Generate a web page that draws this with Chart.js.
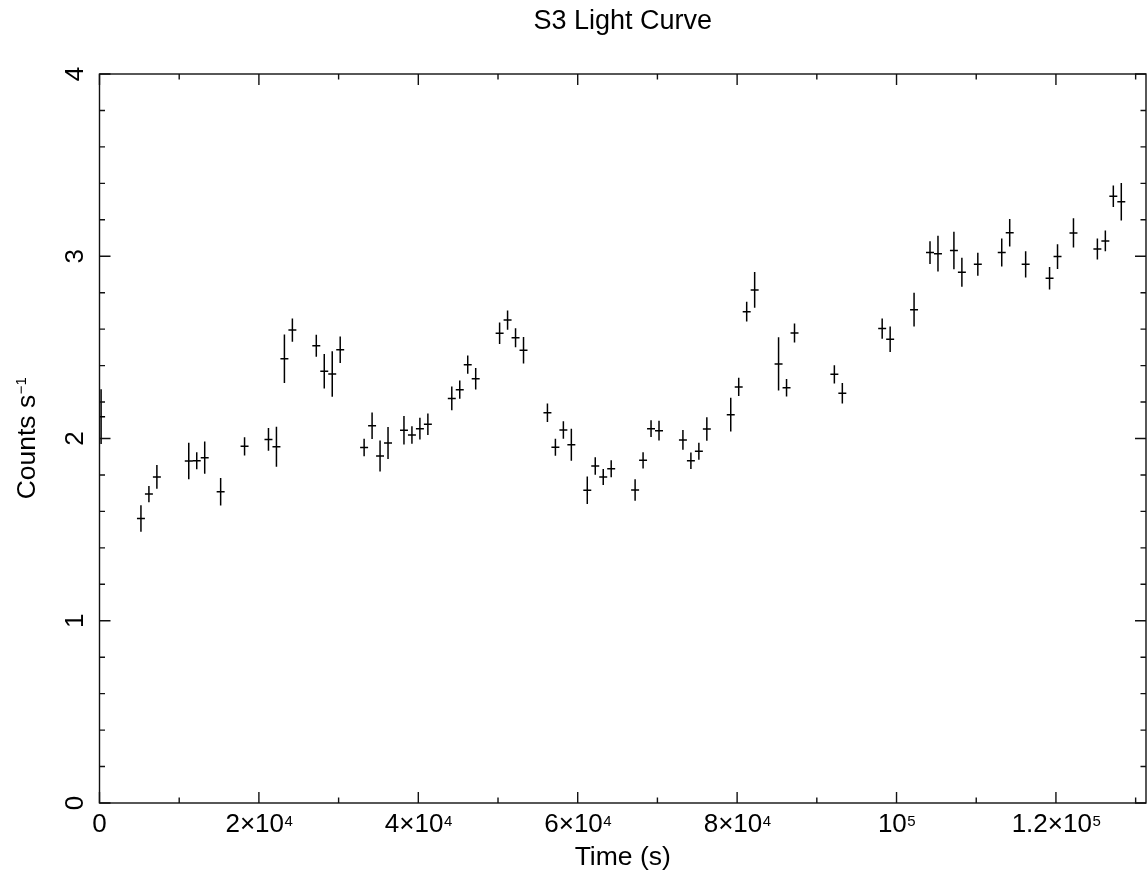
<!DOCTYPE html>
<html>
<head>
<meta charset="utf-8">
<title>S3 Light Curve</title>
<script src="https://cdn.jsdelivr.net/npm/chart.js@4"></script>
<style>
    body { margin: 0; background: #fff; }
    canvas { display: block; }
</style>
</head>
<body>
<canvas id="lightCurve" width="1147" height="877"></canvas>
<script>
// 1 ks bins, time at bin centre (s)
const TIME = [
    200, 5200, 6200, 7200, 11200, 12200, 13200, 15200, 18200, 21200,
    22200, 23200, 24200, 27200, 28200, 29200, 30200, 33200, 34200, 35200,
    36200, 38200, 39200, 40200, 41200, 44200, 45200, 46200, 47200, 50200,
    51200, 52200, 53200, 56200, 57200, 58200, 59200, 61200, 62200, 63200,
    64200, 67200, 68200, 69200, 70200, 73200, 74200, 75200, 76200, 79200,
    80200, 81200, 82200, 85200, 86200, 87200, 92200, 93200, 98200, 99200,
    102200, 104200, 105200, 107200, 108200, 110200, 113200, 114200, 116200, 119200,
    120200, 122200, 125200, 126200, 127200, 128200
];
const TIME_ERR = 500;

// count rate (counts/s)
const RATE = [
    2.12, 1.561, 1.695, 1.789, 1.877, 1.878, 1.895, 1.708, 1.957, 1.995,
    1.955, 2.438, 2.595, 2.509, 2.369, 2.354, 2.487, 1.950, 2.070, 1.904,
    1.975, 2.045, 2.019, 2.054, 2.078, 2.220, 2.268, 2.405, 2.328, 2.577,
    2.650, 2.553, 2.484, 2.141, 1.952, 2.047, 1.966, 1.716, 1.849, 1.789,
    1.834, 1.717, 1.880, 2.054, 2.043, 1.992, 1.878, 1.930, 2.052, 2.131,
    2.283, 2.696, 2.815, 2.409, 2.279, 2.579, 2.352, 2.248, 2.603, 2.544,
    2.707, 3.020, 3.014, 3.032, 2.912, 2.956, 3.021, 3.129, 2.956, 2.879,
    2.998, 3.128, 3.040, 3.084, 3.329, 3.299
];

// 1-sigma error on the rate
const RATE_ERR = [
    0.150, 0.073, 0.045, 0.065, 0.100, 0.047, 0.089, 0.075, 0.050, 0.062,
    0.110, 0.133, 0.064, 0.060, 0.095, 0.125, 0.073, 0.048, 0.073, 0.085,
    0.088, 0.078, 0.048, 0.060, 0.059, 0.065, 0.050, 0.050, 0.059, 0.059,
    0.053, 0.052, 0.073, 0.051, 0.046, 0.048, 0.088, 0.076, 0.048, 0.044,
    0.047, 0.059, 0.045, 0.046, 0.054, 0.054, 0.045, 0.046, 0.064, 0.093,
    0.050, 0.054, 0.098, 0.146, 0.048, 0.052, 0.050, 0.056, 0.056, 0.070,
    0.093, 0.062, 0.098, 0.103, 0.080, 0.063, 0.077, 0.076, 0.072, 0.062,
    0.068, 0.080, 0.058, 0.057, 0.059, 0.103
];

// axis ticks; x labels are mantissa text plus a superscript exponent
const X_MAJOR = [0, 20000, 40000, 60000, 80000, 100000, 120000];
const X_LABEL_BASE = ['0', '2\u00d710', '4\u00d710', '6\u00d710', '8\u00d710', '10', '1.2\u00d710'];
const X_LABEL_EXP = ['', '4', '4', '4', '4', '5', '5'];
const X_MINOR_STEP = 10000;
const X_MAX = 131300;

const Y_MAJOR = [0, 1, 2, 3, 4];
const Y_LABELS = ['0', '1', '2', '3', '4'];
const Y_MINOR_STEP = 0.2;

const FONT = '"Liberation Sans", Arial, Helvetica, sans-serif';

const points = TIME.map(function (t, i) {
    return {x: t, y: RATE[i]};
});

// horizontal bin width and vertical rate error for every point
const errorBars = {
    id: 'errorBars',
    afterDatasetsDraw: function (chart) {
        const ctx = chart.ctx;
        const xs = chart.scales.x;
        const ys = chart.scales.y;
        const area = chart.chartArea;
        ctx.save();
        ctx.beginPath();
        ctx.rect(area.left, area.top, area.right - area.left, area.bottom - area.top);
        ctx.clip();
        ctx.strokeStyle = '#000';
        ctx.lineWidth = 1.5;
        ctx.beginPath();
        for (let i = 0; i < TIME.length; i++) {
            const y = ys.getPixelForValue(RATE[i]);
            ctx.moveTo(xs.getPixelForValue(TIME[i] - TIME_ERR), y);
            ctx.lineTo(xs.getPixelForValue(TIME[i] + TIME_ERR), y);
            const x = xs.getPixelForValue(TIME[i]);
            ctx.moveTo(x, ys.getPixelForValue(RATE[i] - RATE_ERR[i]));
            ctx.lineTo(x, ys.getPixelForValue(RATE[i] + RATE_ERR[i]));
        }
        ctx.stroke();
        ctx.restore();
    }
};

// boxed frame with inward ticks on all four sides, labels and axis titles
const frame = {
    id: 'frame',
    afterDraw: function (chart) {
        const ctx = chart.ctx;
        const xs = chart.scales.x;
        const ys = chart.scales.y;
        const a = chart.chartArea;
        const major = 11, minor = 5.5;
        ctx.save();
        ctx.strokeStyle = '#111';
        ctx.lineWidth = 1.4;
        ctx.strokeRect(a.left, a.top, a.right - a.left, a.bottom - a.top);

        ctx.beginPath();
        for (let v = 0; v <= X_MAX; v += X_MINOR_STEP) {
            const x = xs.getPixelForValue(v);
            const len = X_MAJOR.indexOf(v) >= 0 ? major : minor;
            ctx.moveTo(x, a.bottom);
            ctx.lineTo(x, a.bottom - len);
            ctx.moveTo(x, a.top);
            ctx.lineTo(x, a.top + len);
        }
        for (let j = 0; j <= 20; j++) {
            const v = j * Y_MINOR_STEP;
            const y = ys.getPixelForValue(v);
            const len = j % 5 === 0 ? major : minor;
            ctx.moveTo(a.left, y);
            ctx.lineTo(a.left + len, y);
            ctx.moveTo(a.right, y);
            ctx.lineTo(a.right - len, y);
        }
        ctx.stroke();

        ctx.fillStyle = '#000';
        ctx.textBaseline = 'alphabetic';

        // x tick labels
        const baseFont = '26px ' + FONT;
        const expFont = '15px ' + FONT;
        for (let i = 0; i < X_MAJOR.length; i++) {
            ctx.font = baseFont;
            const wb = ctx.measureText(X_LABEL_BASE[i]).width;
            ctx.font = expFont;
            const we = X_LABEL_EXP[i] ? ctx.measureText(X_LABEL_EXP[i]).width : 0;
            const x0 = xs.getPixelForValue(X_MAJOR[i]) - (wb + we) / 2;
            ctx.textAlign = 'left';
            ctx.font = baseFont;
            ctx.fillText(X_LABEL_BASE[i], x0, a.bottom + 29);
            if (X_LABEL_EXP[i]) {
                ctx.font = expFont;
                ctx.fillText(X_LABEL_EXP[i], x0 + wb + 0.5, a.bottom + 23);
            }
        }

        // y tick labels, rotated to read upwards
        ctx.font = baseFont;
        ctx.textAlign = 'center';
        for (let i = 0; i < Y_MAJOR.length; i++) {
            ctx.save();
            ctx.translate(a.left - 16.5, ys.getPixelForValue(Y_MAJOR[i]));
            ctx.rotate(-Math.PI / 2);
            ctx.fillText(Y_LABELS[i], 0, 0);
            ctx.restore();
        }

        // axis titles
        ctx.font = '26.5px ' + FONT;
        ctx.textAlign = 'center';
        ctx.fillText('Time (s)', (a.left + a.right) / 2, a.bottom + 62);

        ctx.save();
        ctx.translate(35, (a.top + a.bottom) / 2);
        ctx.rotate(-Math.PI / 2);
        ctx.textAlign = 'left';
        ctx.font = '26.5px ' + FONT;
        const wMain = ctx.measureText('Counts s').width;
        ctx.font = expFont;
        const wSup = ctx.measureText('\u22121').width;
        const start = -(wMain + wSup) / 2;
        ctx.font = '26.5px ' + FONT;
        ctx.fillText('Counts s', start, 0);
        ctx.font = expFont;
        ctx.fillText('\u22121', start + wMain + 0.5, -9);
        ctx.restore();

        ctx.restore();
    }
};

new Chart(document.getElementById('lightCurve').getContext('2d'), {
    type: 'scatter',
    data: {
        datasets: [{
            label: 'S3',
            data: points,
            pointRadius: 0,
            showLine: false
        }]
    },
    options: {
        responsive: false,
        devicePixelRatio: 1,
        animation: false,
        layout: {
            padding: {left: 99.5, right: 1, top: 0, bottom: 74}
        },
        plugins: {
            legend: {display: false},
            tooltip: {enabled: false},
            title: {
                display: true,
                text: 'S3 Light Curve',
                color: '#000',
                font: {family: FONT, size: 27, weight: 'normal'},
                padding: {top: 5, bottom: 36.6}
            }
        },
        scales: {
            x: {type: 'linear', display: false, min: 0, max: X_MAX},
            y: {type: 'linear', display: false, min: 0, max: 4}
        }
    },
    plugins: [errorBars, frame]
});
</script>
</body>
</html>
